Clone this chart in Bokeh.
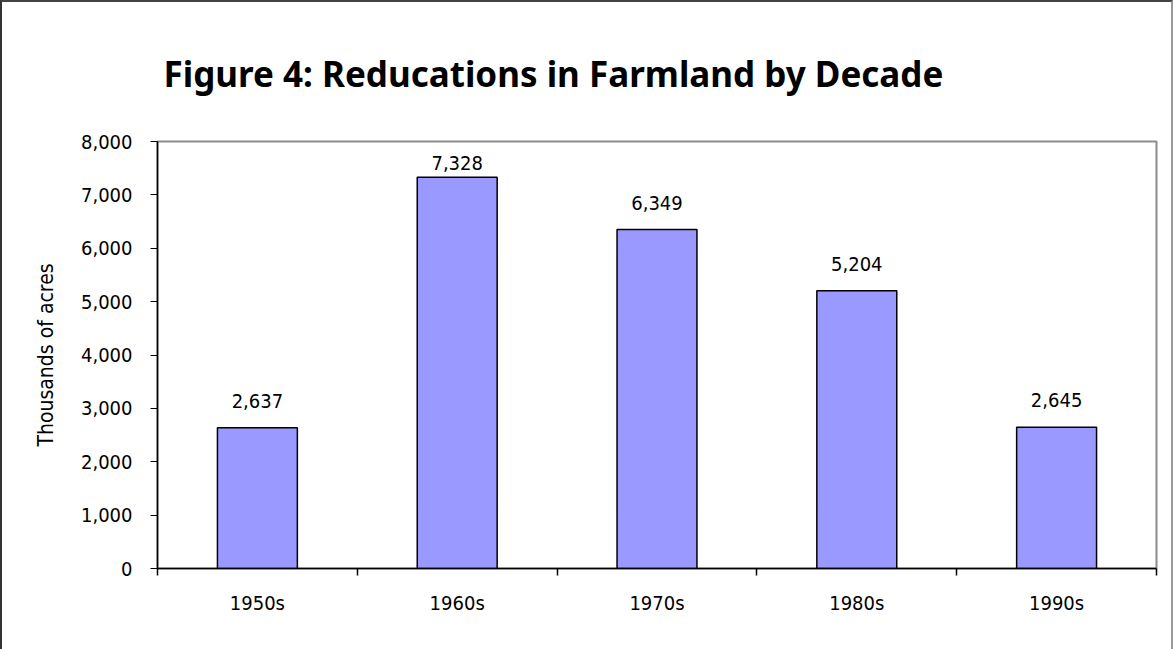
import numpy as np
from bokeh.plotting import figure
from bokeh.models import (Range1d, FixedTicker, NumeralTickFormatter,
                          ColumnDataSource, LinearAxis)
from bokeh.core.properties import value
from bokeh.embed import file_html
from bokeh.resources import INLINE

# Farmland lost per decade, thousands of acres
decades = ["1950s", "1960s", "1970s", "1980s", "1990s"]
acres_lost = [2637, 7328, 6349, 5204, 2645]
y_ticks = [0, 1000, 2000, 3000, 4000, 5000, 6000, 7000, 8000]

TICK_FONT = "DejaVu Sans Condensed"

n = len(decades)
centers = [i + 0.5 for i in range(n)]
edges = list(range(n + 1))

# value labels sit ~20 px above each bar, but never above the plot top
label_y = [min(v + 375, 7470) for v in acres_lost]
src = ColumnDataSource(dict(x=centers, top=acres_lost, ly=label_y,
                            txt=[f"{v:,}" for v in acres_lost]))

p = figure(width=1173, height=649, x_range=Range1d(0, n), y_range=Range1d(0, y_ticks[-1]),
           output_backend="svg", toolbar_location=None, x_axis_type=None,
           min_border_left=155, min_border_right=19, min_border_top=138, min_border_bottom=83)
p.styles = {"border-top": "2px solid #444", "border-left": "2px solid #333",
            "border-right": "2px solid #999", "box-sizing": "border-box"}

p.title.text = "Figure 4: Reducations in Farmland by Decade"
p.title.text_font = "Noto Sans"
p.title.text_font_style = "bold"
p.title.text_font_size = "35px"
p.title.text_color = "black"
p.title.align = "left"
p.title.offset = 6
p.title.standoff = 90

p.xgrid.visible = False
p.ygrid.visible = False
p.outline_line_color = "#8c8c8c"
p.outline_line_width = 2

p.vbar(x="x", top="top", width=0.4, bottom=0, source=src,
       fill_color="#9999ff", line_color="black", line_width=1.5)
p.text(x="x", y="ly", text="txt", source=src, text_align="center",
       text_baseline="bottom", text_font=value(TICK_FONT),
       text_font_size="20px", text_color="black")

# y axis
ya = p.yaxis[0]
ya.ticker = FixedTicker(ticks=y_ticks)
ya.formatter = NumeralTickFormatter(format="0,0")
ya.axis_label = "Thousands of acres"
ya.axis_label_text_font = TICK_FONT
ya.axis_label_text_font_style = "normal"
ya.axis_label_text_font_size = "21px"
ya.axis_label_text_color = "black"
ya.axis_label_standoff = 20
ya.major_label_text_font = TICK_FONT
ya.major_label_text_font_size = "20px"
ya.major_label_text_color = "black"
ya.major_label_standoff = 18
ya.major_tick_out = 7
ya.major_tick_in = 0
ya.minor_tick_line_color = None
ya.axis_line_color = "black"
ya.axis_line_width = 1.5

# x axis: labels centred on bars, tick marks on category boundaries
xa = LinearAxis(ticker=FixedTicker(ticks=centers, minor_ticks=edges),
                major_label_overrides={c: d for c, d in zip(centers, decades)})
xa.major_tick_out = 0
xa.major_tick_in = 0
xa.minor_tick_out = 7
xa.minor_tick_in = 0
xa.minor_tick_line_color = "black"
xa.minor_tick_line_width = 1.5
xa.major_label_text_font = TICK_FONT
xa.major_label_text_font_size = "20px"
xa.major_label_text_color = "black"
xa.major_label_standoff = 15
xa.axis_line_color = "black"
xa.axis_line_width = 1.5
p.add_layout(xa, "below")

open("out.html", "w").write(file_html(p, INLINE))
